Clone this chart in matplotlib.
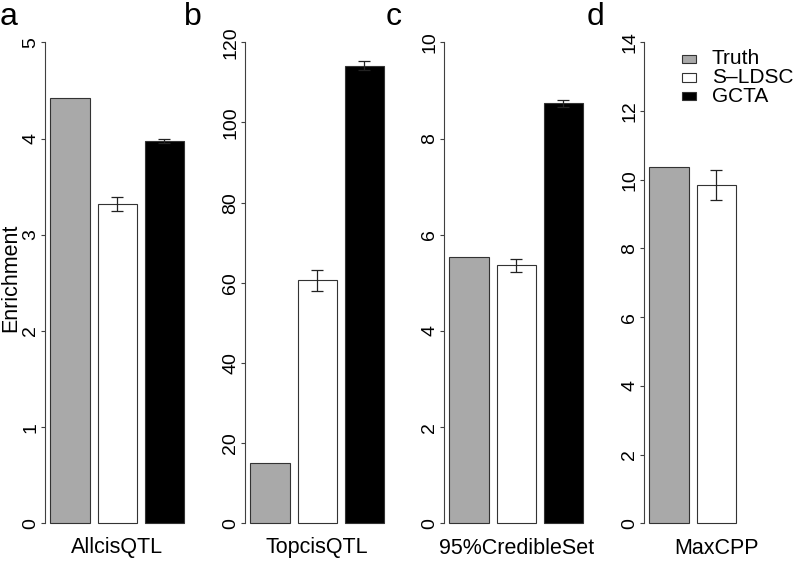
import numpy as np
import matplotlib
matplotlib.use("Agg")
import matplotlib.pyplot as plt
from matplotlib.patches import Rectangle

plt.rcParams['font.family'] = ['Liberation Sans', 'DejaVu Sans']

# data
panels = ['AllcisQTL', 'TopcisQTL', '95%CredibleSet', 'MaxCPP']
letters = ['a', 'b', 'c', 'd']
series = ['Truth', 'S–LDSC', 'GCTA']
colors = ['#a9a9a9', 'white', 'black']

truth = [4.42, 15.0, 5.545, 10.37]
sldsc = [3.32, 60.6, 5.36, 9.84]
sldsc_err = [0.07, 2.6, 0.14, 0.43]
gcta = [3.975, 114.2, 8.73, np.nan]
gcta_err = [0.02, 1.1, 0.08, np.nan]

ymax = [5, 120, 10, 14]
ystep = [1, 20, 2, 2]

W, H = 800, 563
fig = plt.figure(figsize=(8, 5.63), dpi=100)

axis_x = [45, 245, 444, 644]
letter_x = [0, 184, 386, 587]
bot_px, top_px = 523.3, 42.3
xlo, xhi = 0.064, 3.736
px_per_unit = 39.3

for i, name in enumerate(panels):
    ax = fig.add_axes([axis_x[i] / W, (H - bot_px) / H,
                       (xhi - xlo) * px_per_unit / W, (bot_px - top_px) / H])
    ax.set_xlim(xlo, xhi)
    ax.set_ylim(0, ymax[i])
    xs = 0.7 + 1.2 * np.arange(3)
    vals = [truth[i], sldsc[i], gcta[i]]
    errs = [np.nan, sldsc_err[i], gcta_err[i]]
    for x, v, e, c in zip(xs, vals, errs, colors):
        if np.isnan(v):
            continue
        ax.bar(x, v, width=1.0, color=c, edgecolor='#333333', linewidth=0.8,
               clip_on=False, zorder=2)
        if not np.isnan(e):
            ax.errorbar(x, v, yerr=e, fmt='none', ecolor='#222222',
                        elinewidth=0.9, capsize=4, capthick=0.9,
                        clip_on=False, zorder=3)
    for s in ['top', 'right', 'bottom']:
        ax.spines[s].set_visible(False)
    ax.spines['left'].set_color('#404040')
    ax.spines['left'].set_linewidth(0.8)
    ax.spines['left'].set_bounds(0, ymax[i])
    ticks = np.arange(0, ymax[i] + 0.001, ystep[i])
    ax.set_yticks(ticks)
    ax.set_yticklabels([str(int(t)) for t in ticks],
                       rotation=90, va='center', fontsize=14)
    ax.tick_params(axis='y', length=3, width=0.8, color='#404040', pad=1)
    ax.set_xticks([])
    ax.patch.set_visible(False)
    fig.text((axis_x[i] + (xs[1] - xlo) * px_per_unit) / W, 1 - 548 / H, name,
             ha='center', va='center', fontsize=15.5)
    fig.text(letter_x[i] / W, 1 - 2 / H, letters[i], ha='left', va='top',
             fontsize=23)
    if i == 0:
        fig.text(0, 1 - 278 / H, 'Enrichment', rotation=90,
                 ha='left', va='center', fontsize=15.5)

# legend
for j, (lab, col) in enumerate(zip(series, colors)):
    yc = 59 + 18.5 * j
    fig.patches.append(Rectangle((682 / W, 1 - (yc + 4) / H), 14 / W, 8 / H,
                                 facecolor=col, edgecolor='#333333',
                                 linewidth=0.8, transform=fig.transFigure))
    fig.text(712 / W, 1 - yc / H, lab, ha='left', va='center', fontsize=15)

fig.savefig('out.png', dpi=100)
